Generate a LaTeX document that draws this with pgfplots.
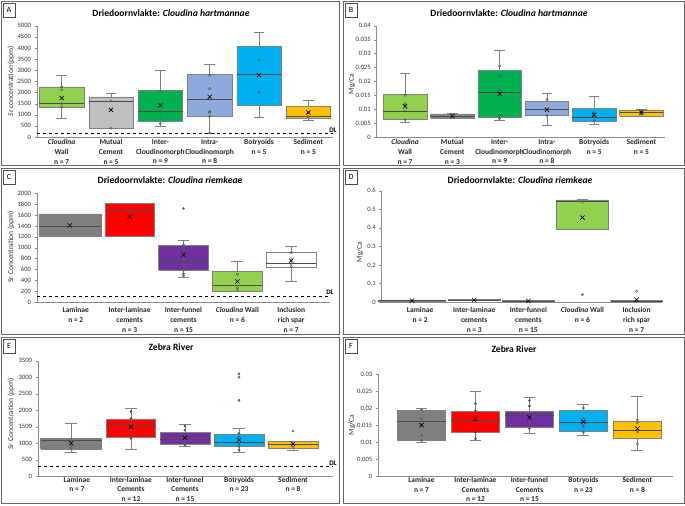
\documentclass[border=0pt]{standalone}
\usepackage{fontspec}
\setmainfont{Carlito}
\usepackage{pgfplots}
\pgfplotsset{compat=1.18}
\definecolor{cwall}{HTML}{92D050}
\definecolor{mutual}{HTML}{BFBFBF}
\definecolor{inter}{HTML}{00B050}
\definecolor{intra}{HTML}{8EA9DB}
\definecolor{botry}{HTML}{00B0F0}
\definecolor{sedim}{HTML}{FFC000}
\definecolor{lamgrey}{HTML}{7F7F7F}
\definecolor{red1}{HTML}{FF0000}
\definecolor{purp}{HTML}{7030A0}
\pgfplotsset{
 panel/.style={scale only axis, anchor=south west, axis lines=left,
   axis line style={-, draw=black!45, line width=0.5pt}, clip=false,
   tick align=outside, major tick length=2.5pt, xtick style={draw=none},
   ytick style={draw=black!45},
   yticklabel style={font=\fontsize{6.6}{8}\selectfont, text=black!80,
     /pgf/number format/fixed, /pgf/number format/precision=3,
     /pgf/number format/1000 sep={}, /pgf/number format/assume math mode=true},
   xticklabel style={font=\bfseries\fontsize{7.5}{9.8}\selectfont, align=center, text=black!85},
   scaled y ticks=false, ymin=0,
 },
 whisk/.style={draw=black!50, line width=0.6pt},
 pts/.style={only marks, mark=o, mark size=1.2pt, mark options={draw=black!65, line width=0.45pt, fill=white}},
 ptf/.style={only marks, mark=*, mark size=1.2pt, mark options={draw=black!60, line width=0.3pt, fill=#1}},
 mn/.style={only marks, mark=x, mark size=3pt, mark options={draw=black, line width=0.6pt}},
 dl/.style={dashed, black, line width=0.6pt},
}
% box: position, half width, lower whisker, Q1, median, Q3, upper whisker, colour
\newcommand\bxp[8]{%
 \pgfmathsetmacro\xa{#1-#2}\pgfmathsetmacro\xb{#1+#2}%
 \pgfmathsetmacro\ca{#1-0.11}\pgfmathsetmacro\cb{#1+0.11}%
 \addplot[whisk] coordinates {(#1,#6)(#1,#7)};
 \addplot[whisk] coordinates {(\ca,#7)(\cb,#7)};
 \addplot[whisk] coordinates {(#1,#4)(#1,#3)};
 \addplot[whisk] coordinates {(\ca,#3)(\cb,#3)};
 \addplot[fill=#8, draw=black!50, line width=0.6pt] coordinates {(\xa,#4)(\xb,#4)(\xb,#6)(\xa,#6)(\xa,#4)};
 \addplot[draw=black!70, line width=0.7pt] coordinates {(\xa,#5)(\xb,#5)};
}
\begin{document}
\begin{tikzpicture}
\begin{scope}[x=1pt,y=-1pt]
\path[use as bounding box] (0,0) rectangle (685,504);
\foreach \fx/\fy/\fw/\fh/\L in {1/1/338/164/A, 343/1/341/164/B, 1/168/338/166/C, 343/168/341/166/D, 1/337/338/166/E, 343/337/341/166/F}{
  \draw[black!60, line width=0.8pt] (\fx,\fy) rectangle ++(\fw,\fh);
  \draw[black!70, line width=0.6pt, fill=white] (\fx+2,\fy+2) rectangle ++(12,14);
  \node[font=\fontsize{8}{9}\selectfont] at (\fx+8,\fy+9) {\L};
}
\node[font=\bfseries\fontsize{9.6}{11}\selectfont] at (171,13) {Driedoornvlakte: \textit{Cloudina hartmannae}};
\node[font=\bfseries\fontsize{9.6}{11}\selectfont] at (509,13) {Driedoornvlakte: \textit{Cloudina hartmannae}};
\node[font=\bfseries\fontsize{9.6}{11}\selectfont] at (170,180) {Driedoornvlakte: \textit{Cloudina riemkeae}};
\node[font=\bfseries\fontsize{9.6}{11}\selectfont] at (520,180) {Driedoornvlakte: \textit{Cloudina riemkeae}};
\node[font=\bfseries\fontsize{9.6}{11}\selectfont] at (171,347) {Zebra River};
\node[font=\bfseries\fontsize{9.6}{11}\selectfont] at (514,349) {Zebra River};
\node[rotate=90, font=\fontsize{7.5}{8}\selectfont, text=black!80] at (11,81) {\textit{Sr} concentration (ppm)};
\node[rotate=90, font=\fontsize{7.5}{8}\selectfont, text=black!80] at (352,84) {Mg/Ca};
\node[rotate=90, font=\fontsize{7.5}{8}\selectfont, text=black!80] at (11,247) {Sr Concentration (ppm)};
\node[rotate=90, font=\fontsize{7.5}{8}\selectfont, text=black!80] at (360,252) {Mg/Ca};
\node[rotate=90, font=\fontsize{7.5}{8}\selectfont, text=black!80] at (11,414) {\textit{Sr} Concentration (ppm)};
\node[rotate=90, font=\fontsize{7.5}{8}\selectfont, text=black!80] at (352,425) {Mg/Ca};
\end{scope}

% ---------------- A ----------------
\begin{axis}[panel, at={(37pt,-137pt)}, width=296pt, height=111.3pt,
  xmin=-0.5, xmax=5.5, ymax=5000, ytick={0,500,...,5000},
  xtick={0,1,2,3,4,5}, xticklabel style={yshift=3.5pt},
  xticklabels={{\textit{Cloudina}\\Wall\\n = 7},{Mutual\\Cement\\n = 5},{Inter-\\Cloudinomorph\\n = 9},{Intra-\\Cloudinomorph\\n = 8},{Botryoids\\n = 5},{Sediment\\n = 5}}]
\bxp{0}{0.45}{850}{1350}{1530}{2250}{2770}{cwall}
\bxp{1}{0.45}{380}{400}{1620}{1800}{1960}{mutual}
\bxp{2}{0.45}{500}{720}{1170}{2080}{3000}{inter}
\bxp{3}{0.45}{180}{950}{1680}{2800}{3270}{intra}
\bxp{4}{0.45}{870}{1430}{2820}{4080}{4720}{botry}
\bxp{5}{0.45}{770}{840}{940}{1400}{1640}{sedim}
\addplot[pts] coordinates {(0,2250)(0,2120)(0,1500)(0,1340)(1,1620)(1,400)(2,2060)(2,1420)(2,1170)(2,900)(2,600)(3,2780)(3,2180)(3,1150)(3,1100)(3,920)(3,180)(4,3450)(4,2000)(5,1100)(5,900)};
\addplot[mn] coordinates {(0,1750)(1,1220)(2,1420)(3,1800)(4,2780)(5,1100)};
\addplot[dl] coordinates {(-0.5,170)(5.5,170)};
\node[anchor=south, font=\bfseries\fontsize{7}{8}\selectfont, inner sep=1pt] at (axis cs:5.5,170) {DL};
\end{axis}

% ---------------- B ----------------
\begin{axis}[panel, at={(376.7pt,-137pt)}, width=288.3pt, height=111.3pt,
  xmin=-0.6, xmax=5.5, ymax=0.04, ytick={0,0.005,0.01,0.015,0.02,0.025,0.03,0.035,0.04},
  xtick={0,1,2,3,4,5}, xticklabel style={yshift=3.5pt},
  xticklabels={{\textit{Cloudina}\\Wall\\n = 7},{Mutual\\Cement\\n = 3},{Inter-\\Cloudinomorph\\n = 9},{Intra-\\Cloudinomorph\\n = 8},{Botryoids\\n = 5},{Sediment\\n = 5}}]
\bxp{0}{0.46}{0.0053}{0.0063}{0.0093}{0.0152}{0.023}{cwall}
\bxp{1}{0.46}{0.0066}{0.0067}{0.0075}{0.0083}{0.0085}{mutual!70!black}
\bxp{2}{0.46}{0.006}{0.0072}{0.016}{0.0238}{0.031}{inter}
\bxp{3}{0.46}{0.0043}{0.0077}{0.01}{0.0128}{0.0157}{intra}
\bxp{4}{0.46}{0.0047}{0.0055}{0.0072}{0.0102}{0.0145}{botry}
\bxp{5}{0.46}{0.0073}{0.0075}{0.0088}{0.0097}{0.0099}{sedim}
\addplot[pts] coordinates {(0,0.015)(0,0.012)(0,0.0115)(0,0.0093)(0,0.0062)(1,0.0075)(2,0.0255)(2,0.022)(2,0.0168)(2,0.016)(2,0.0078)(2,0.0066)(3,0.0135)(3,0.01)(3,0.0077)(4,0.009)(4,0.0072)(4,0.0058)(5,0.0095)(5,0.0082)};
\addplot[mn] coordinates {(0,0.011)(1,0.0075)(2,0.0155)(3,0.0098)(4,0.008)(5,0.0088)};
\end{axis}

% ---------------- C ----------------
\begin{axis}[panel, at={(37pt,-302pt)}, width=293pt, height=108.7pt,
  xmin=-0.72, xmax=4.72, ymax=2000, ytick={0,200,...,2000},
  xtick={0,1,2,3,4}, xticklabel style={yshift=0.3pt},
  xticklabels={{Laminae\\n = 2},{Inter-laminae\\cements\\n = 3},{Inter-funnel\\cements\\n = 15},{\textit{Cloudina} Wall\\n = 6},{Inclusion\\rich spar\\n = 7}}]
\bxp{-0.11}{0.575}{1200}{1200}{1400}{1620}{1620}{lamgrey}
\bxp{1}{0.46}{1210}{1210}{1680}{1810}{1810}{red1}
\bxp{2}{0.46}{460}{590}{750}{1040}{1140}{purp}
\bxp{3}{0.46}{190}{190}{310}{570}{740}{cwall}
\bxp{4}{0.46}{390}{630}{710}{910}{1020}{white}
\addplot[pts] coordinates {(1,1680)(2,1050)(2,970)(2,880)(2,780)(2,680)(2,620)(2,580)(2,520)(2,480)(3,510)(3,260)(3,210)(4,910)(4,780)(4,700)(4,650)};
\addplot[ptf=purp] coordinates {(2,1720)};
\addplot[mn] coordinates {(-0.11,1410)(1,1570)(2,870)(3,380)(4,760)};
\addplot[dl] coordinates {(-0.72,110)(4.72,110)};
\node[anchor=south, font=\bfseries\fontsize{7}{8}\selectfont, inner sep=1pt] at (axis cs:4.72,110) {DL};
\end{axis}

% ---------------- D ----------------
\begin{axis}[panel, at={(381.7pt,-302pt)}, width=280.3pt, height=111.3pt,
  xmin=-0.71, xmax=4.47, ymax=0.6, ytick={0,0.1,0.2,0.3,0.4,0.5,0.6},
  xtick={0,1,2,3,4}, xticklabel style={yshift=0.3pt},
  xticklabels={{Laminae\\n = 2},{Inter-laminae\\cements\\n = 3},{Inter-funnel\\cements\\n = 15},{\textit{Cloudina} Wall\\n = 6},{Inclusion\\rich spar\\n = 7}}]
\bxp{-0.15}{0.62}{0.006}{0.006}{0.008}{0.01}{0.01}{lamgrey}
\bxp{1}{0.48}{0.009}{0.009}{0.011}{0.012}{0.012}{red1}
\bxp{2}{0.48}{0.004}{0.004}{0.006}{0.008}{0.008}{purp}
\bxp{3}{0.48}{0.39}{0.39}{0.543}{0.55}{0.553}{cwall}
\bxp{4}{0.48}{0.003}{0.004}{0.006}{0.009}{0.01}{white}
\addplot[pts] coordinates {(3,0.54)(4,0.058)};
\addplot[ptf=inter] coordinates {(3,0.04)};
\addplot[mn] coordinates {(-0.15,0.008)(1,0.011)(2,0.006)(3,0.455)(4,0.012)};
\end{axis}

% ---------------- E ----------------
\begin{axis}[panel, at={(38pt,-476.3pt)}, width=295pt, height=115.6pt,
  xmin=-0.72, xmax=4.74, ymax=3500, ytick={0,500,...,3500},
  xtick={0,1,2,3,4},
  xticklabels={{Laminae\\n = 7},{Inter-laminae\\Cements\\n = 12},{Inter-funnel\\Cements\\n = 15},{Botryoids\\n = 23},{Sediment\\n = 8}},
  xticklabel style={font=\bfseries\fontsize{7.5}{9.4}\selectfont, yshift=5.2pt}]
\bxp{-0.105}{0.565}{720}{830}{1080}{1140}{1590}{lamgrey}
\bxp{1}{0.46}{810}{1190}{1550}{1740}{2060}{red1}
\bxp{2}{0.46}{900}{970}{1110}{1340}{1560}{purp}
\bxp{3}{0.46}{720}{900}{1040}{1270}{1460}{botry}
\bxp{4}{0.46}{800}{860}{970}{1050}{1050}{sedim}
\addplot[pts] coordinates {(-0.105,1100)(-0.105,1060)(-0.105,950)(-0.105,850)};
\addplot[ptf=red1!70!black] coordinates {(1,1960)(1,1750)(1,1650)(1,1520)(1,1400)(1,1250)(1,1150)};
\addplot[ptf=purp!80!black] coordinates {(2,1520)(2,1400)(2,1250)(2,1200)(2,1100)(2,1000)(2,950)};
\addplot[ptf=botry!70!black] coordinates {(3,3100)(3,3000)(3,2300)(3,1300)(3,1200)(3,1100)(3,1000)(3,950)(3,900)(3,800)};
\addplot[ptf=sedim!70!black] coordinates {(4,1370)(4,990)(4,900)};
\addplot[mn] coordinates {(-0.105,1000)(1,1500)(2,1170)(3,1100)(4,980)};
\addplot[dl] coordinates {(-0.72,300)(4.74,300)};
\node[anchor=south, font=\bfseries\fontsize{7}{8}\selectfont, inner sep=1pt] at (axis cs:4.74,300) {DL};
\end{axis}

% ---------------- F ----------------
\begin{axis}[panel, at={(378.3pt,-476.3pt)}, width=294.7pt, height=102.3pt,
  xmin=-0.8, xmax=4.66, ymax=0.03, ytick={0,0.005,0.01,0.015,0.02,0.025,0.03},
  xtick={0,1,2,3,4},
  xticklabels={{Laminae\\n = 7},{Inter-laminae\\Cements\\n = 12},{Inter-funnel\\Cements\\n = 15},{Botryoids\\n = 23},{Sediment\\n = 8}},
  xticklabel style={font=\bfseries\fontsize{7.5}{9.4}\selectfont, yshift=4.7pt}]
\bxp{0}{0.45}{0.01}{0.0105}{0.016}{0.0193}{0.0199}{lamgrey}
\bxp{1}{0.45}{0.0107}{0.013}{0.0165}{0.0191}{0.025}{red1}
\bxp{2}{0.45}{0.0127}{0.0143}{0.0178}{0.019}{0.0232}{purp}
\bxp{3}{0.45}{0.0121}{0.0133}{0.0157}{0.0193}{0.0211}{botry}
\bxp{4}{0.45}{0.0075}{0.0112}{0.0134}{0.016}{0.0234}{sedim}
\addplot[pts] coordinates {(0,0.0195)(0,0.017)(0,0.012)(0,0.0105)};
\addplot[ptf=red1!70!black] coordinates {(1,0.0213)(1,0.0192)(1,0.0162)(1,0.013)(1,0.011)};
\addplot[ptf=purp!80!black] coordinates {(2,0.0222)(2,0.0206)(2,0.0185)(2,0.016)(2,0.014)};
\addplot[ptf=botry!70!black] coordinates {(3,0.02)(3,0.017)(3,0.016)(3,0.015)(3,0.0145)(3,0.013)};
\addplot[ptf=sedim!70!black] coordinates {(4,0.0166)(4,0.0157)(4,0.0135)(4,0.013)(4,0.0095)};
\addplot[mn] coordinates {(0,0.015)(1,0.0168)(2,0.0173)(3,0.016)(4,0.014)};
\end{axis}
\end{tikzpicture}
\end{document}
